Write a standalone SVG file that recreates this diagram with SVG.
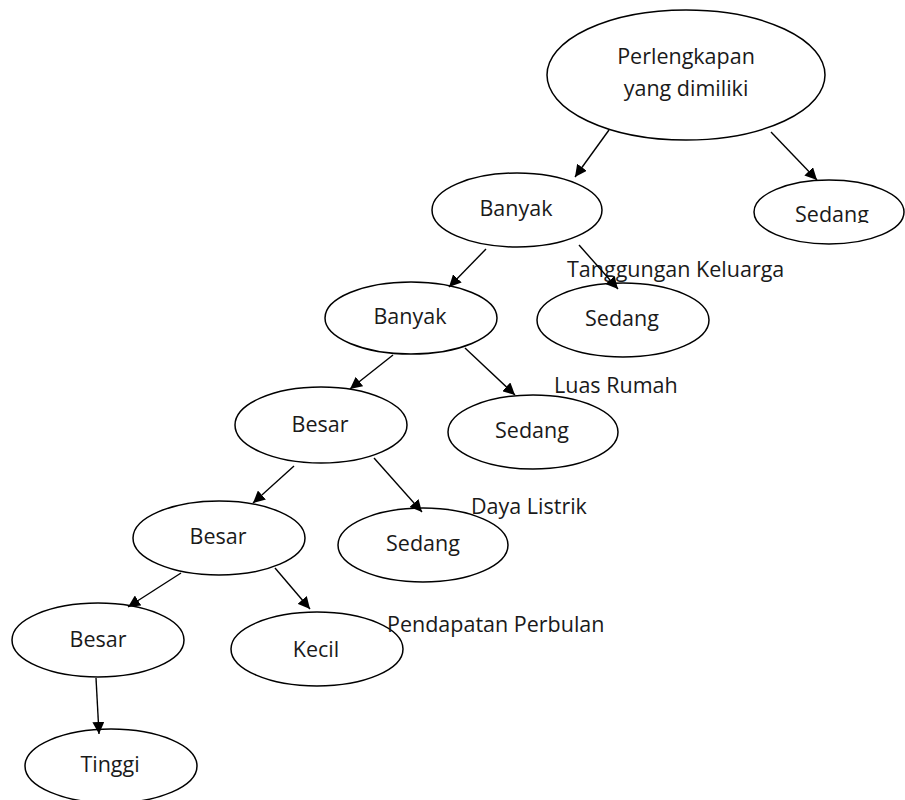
<svg xmlns="http://www.w3.org/2000/svg" width="905" height="800" viewBox="0 0 905 800">
<style>
.n{fill:#fff;stroke:#000;stroke-width:1.5}
.t{font-family:"Open Sans","Noto Sans",sans-serif;font-size:21.5px;fill:#1a1a1a;text-anchor:middle}
.l{font-family:"Open Sans","Noto Sans",sans-serif;font-size:21.5px;fill:#1a1a1a}
.c{stroke:#000;stroke-width:1.4;fill:none;marker-end:url(#ah)}
</style>
<defs>
<marker id="ah" markerUnits="userSpaceOnUse" markerWidth="13" markerHeight="12" refX="12" refY="6" orient="auto">
<path d="M0,0 L12,6 L0,12 z" fill="#000"/>
</marker>
<clipPath id="clipS"><rect x="740" y="170" width="165" height="53"/></clipPath>
</defs>
<rect width="905" height="800" fill="#fff"/>
<g id="root"><ellipse class="n" cx="686" cy="75" rx="139" ry="65"/><text class="t" x="686" y="64">Perlengkapan</text><text class="t" x="686" y="96">yang dimiliki</text></g>
<g id="sedang1"><ellipse class="n" cx="829" cy="212" rx="75" ry="32"/><text class="t" x="832" y="222" clip-path="url(#clipS)">Sedang</text></g>
<g id="banyak1"><ellipse class="n" cx="517" cy="210" rx="85" ry="37"/><text class="t" x="516" y="216">Banyak</text></g>
<g id="banyak2"><ellipse class="n" cx="411" cy="318" rx="86" ry="36"/><text class="t" x="410" y="324">Banyak</text></g>
<g id="sedang2"><ellipse class="n" cx="623" cy="320" rx="86" ry="37"/><text class="t" x="622" y="326">Sedang</text></g>
<g id="besar1"><ellipse class="n" cx="321" cy="425" rx="86" ry="38"/><text class="t" x="320" y="432">Besar</text></g>
<g id="sedang3"><ellipse class="n" cx="533" cy="432" rx="85" ry="37"/><text class="t" x="532" y="438">Sedang</text></g>
<g id="besar2"><ellipse class="n" cx="219" cy="538" rx="86" ry="37"/><text class="t" x="218" y="544">Besar</text></g>
<g id="sedang4"><ellipse class="n" cx="423" cy="545" rx="85" ry="37"/><text class="t" x="423" y="551">Sedang</text></g>
<g id="besar3"><ellipse class="n" cx="98" cy="640" rx="86" ry="37"/><text class="t" x="98" y="647">Besar</text></g>
<g id="kecil"><ellipse class="n" cx="317" cy="649" rx="86" ry="37"/><text class="t" x="316" y="657">Kecil</text></g>
<g id="tinggi"><ellipse class="n" cx="111" cy="766" rx="86" ry="37"/><text class="t" x="110" y="772">Tinggi</text></g>
<g id="labels">
<text class="l" x="567" y="277">Tanggungan Keluarga</text>
<text class="l" x="554" y="393">Luas Rumah</text>
<text class="l" x="471" y="514">Daya Listrik</text>
<text class="l" x="387" y="632">Pendapatan Perbulan</text>
</g>
<g id="connectors">
<line class="c" x1="609" y1="130" x2="575" y2="177"/>
<line class="c" x1="771" y1="132" x2="817" y2="180"/>
<line class="c" x1="486" y1="249" x2="449" y2="287"/>
<line class="c" x1="579" y1="245" x2="618" y2="289"/>
<line class="c" x1="393" y1="355" x2="350" y2="389"/>
<line class="c" x1="465" y1="348" x2="515" y2="395"/>
<line class="c" x1="294" y1="466" x2="253" y2="503"/>
<line class="c" x1="374" y1="458" x2="422" y2="512"/>
<line class="c" x1="181" y1="573" x2="128" y2="607"/>
<line class="c" x1="275" y1="568" x2="310" y2="609"/>
<line class="c" x1="96" y1="678" x2="99" y2="734"/>
</g>
</svg>
